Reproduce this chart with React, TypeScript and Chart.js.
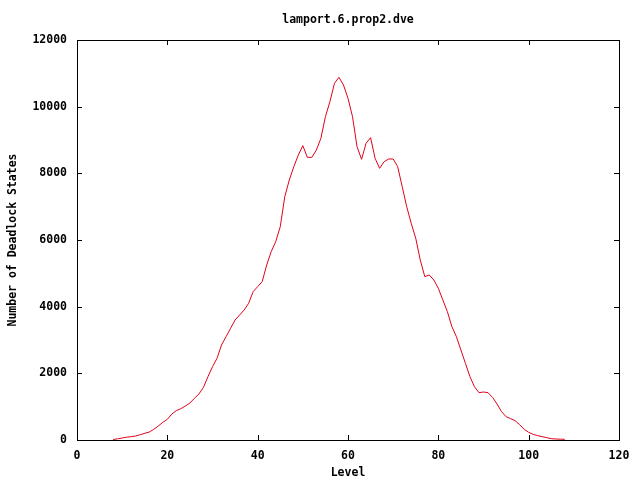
import { useEffect, useRef } from "react";
import { Chart, registerables } from "chart.js";

Chart.register(...registerables);

const chartTitle = "lamport.6.prop2.dve";
const xAxisTitle = "Level";
const yAxisTitle = "Number of Deadlock States";

const levels = [
  8, 9, 10, 11, 12, 13, 14, 15, 16, 17, 18, 19, 20, 21, 22, 23, 24, 25, 26, 27,
  28, 29, 30, 31, 32, 33, 34, 35, 36, 37, 38, 39, 40, 41, 42, 43, 44, 45, 46, 47,
  48, 49, 50, 51, 52, 53, 54, 55, 56, 57, 58, 59, 60, 61, 62, 63, 64, 65, 66, 67,
  68, 69, 70, 71, 72, 73, 74, 75, 76, 77, 78, 79, 80, 81, 82, 83, 84, 85, 86, 87,
  88, 89, 90, 91, 92, 93, 94, 95, 96, 97, 98, 99, 100, 101, 102, 103, 104, 105,
  106, 107, 108,
];

const deadlockStates = [
  15, 35, 60, 85, 100, 120, 160, 200, 240, 320, 420, 530, 620, 780, 880, 940,
  1020, 1110, 1250, 1380, 1580, 1900, 2200, 2450, 2850, 3100, 3350, 3600, 3750,
  3900, 4100, 4450, 4600, 4750, 5250, 5650, 5950, 6400, 7300, 7800, 8200, 8550,
  8830, 8480, 8480, 8700, 9050, 9700, 10150, 10700, 10880, 10650, 10250, 9700,
  8800, 8420, 8900, 9070, 8450, 8150, 8350, 8430, 8430, 8200, 7600, 7000, 6500,
  6050, 5400, 4900, 4950, 4800, 4550, 4200, 3850, 3400, 3100, 2700, 2300, 1900,
  1600, 1420, 1440, 1420, 1280, 1080, 850, 700, 640, 580, 460, 320, 230, 170,
  130, 100, 70, 40, 30, 25, 20,
];

const xTicks = [0, 20, 40, 60, 80, 100, 120];
const yTicks = [0, 2000, 4000, 6000, 8000, 10000, 12000];

const FONT = { family: "'DejaVu Sans Mono', monospace", size: 11.5, weight: "bold" as const, lineHeight: 1.2 };

const framePlugin = {
  id: "gnuplotFrame",
  afterDraw(chart: any) {
    const { ctx, chartArea } = chart;
    const { left, right, top, bottom } = chartArea;
    const xs = chart.scales.x;
    const ys = chart.scales.y;
    const t = 5;
    ctx.save();
    ctx.strokeStyle = "#000";
    ctx.lineWidth = 1;
    ctx.beginPath();
    xTicks.forEach((v) => {
      const px = Math.round(xs.getPixelForValue(v)) + 0.5;
      ctx.moveTo(px, bottom);
      ctx.lineTo(px, bottom - t);
      ctx.moveTo(px, top);
      ctx.lineTo(px, top + t);
    });
    yTicks.forEach((v) => {
      const py = Math.round(ys.getPixelForValue(v)) + 0.5;
      ctx.moveTo(left, py);
      ctx.lineTo(left + t, py);
      ctx.moveTo(right, py);
      ctx.lineTo(right - t, py);
    });
    ctx.stroke();
    ctx.strokeRect(Math.round(left) + 0.5, Math.round(top) + 0.5, Math.round(right - left), Math.round(bottom - top));
    ctx.restore();
  },
};

export default function App() {
  const ref = useRef<HTMLCanvasElement | null>(null);

  useEffect(() => {
    document.body.style.margin = "0";
    if (!ref.current) return;
    const chart = new Chart(ref.current, {
      type: "line",
      data: {
        datasets: [
          {
            data: levels.map((l, i) => ({ x: l, y: deadlockStates[i] })),
            borderColor: "#e0001a",
            borderWidth: 1,
            pointRadius: 0,
            tension: 0,
            fill: false,
          },
        ],
      },
      options: {
        responsive: false,
        animation: false,
        layout: { padding: { top: 0, right: 21, bottom: 0, left: 0 } },
        plugins: {
          legend: { display: false },
          tooltip: { enabled: false },
          title: {
            display: true,
            fullSize: false,
            text: chartTitle,
            color: "#000",
            font: FONT,
            padding: { top: 13.5, bottom: 12.7 },
          },
        },
        scales: {
          x: {
            type: "linear",
            min: 0,
            max: 120,
            afterBuildTicks: (s: any) => {
              s.ticks = xTicks.map((v) => ({ value: v }));
            },
            afterFit: (s: any) => {
              s.height = 40;
            },
            ticks: {
              color: "#000",
              font: FONT,
              padding: 9,
              maxRotation: 0,
              autoSkip: false,
              callback: (v: any) => String(v),
            },
            grid: { display: false, drawTicks: false },
            border: { display: false },
            title: {
              display: true,
              text: xAxisTitle,
              color: "#000",
              font: FONT,
              padding: { top: 0, bottom: 0 },
            },
          },
          y: {
            type: "linear",
            min: 0,
            max: 12000,
            afterBuildTicks: (s: any) => {
              s.ticks = yTicks.map((v) => ({ value: v }));
            },
            afterFit: (s: any) => {
              s.width = 77;
            },
            ticks: {
              color: "#000",
              font: FONT,
              padding: 10,
              autoSkip: false,
              callback: (v: any) => String(v),
            },
            grid: { display: false, drawTicks: false },
            border: { display: false },
            title: {
              display: true,
              text: yAxisTitle,
              color: "#000",
              font: FONT,
              padding: { top: 6, bottom: 0 },
            },
          },
        },
      },
      plugins: [framePlugin],
    });
    return () => chart.destroy();
  }, []);

  return (
    <div style={{ position: "absolute", left: 0, top: 0, width: 640, height: 480, background: "#fff" }}>
      <canvas ref={ref} width={640} height={480} />
    </div>
  );
}
